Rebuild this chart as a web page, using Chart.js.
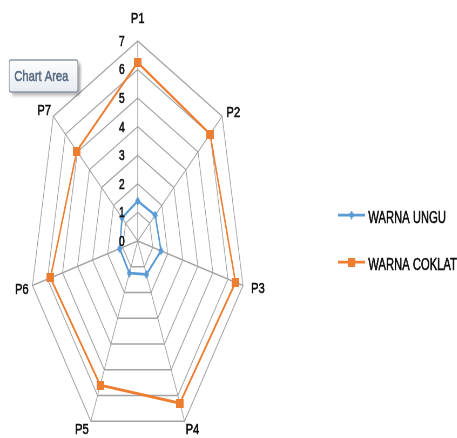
<!DOCTYPE html>
<html><head><meta charset="utf-8">
<script src="https://cdn.jsdelivr.net/npm/chart.js@4/dist/chart.umd.min.js"></script>
<style>
html,body{margin:0;padding:0;overflow:hidden;background:#fff;width:457px;height:438px}
#wrap{position:absolute;left:0;top:0;width:847px;height:460px;transform:scaleX(0.54);transform-origin:0 0}
canvas{display:block}
</style></head><body>
<div id="wrap"><canvas id="c" width="847" height="460"></canvas></div>
<script>
// ---- data ----
const categories = ['P1', 'P2', 'P3', 'P4', 'P5', 'P6', 'P7'];
const warnaUngu = [1.4, 1.45, 1.55, 1.3, 1.25, 1.2, 1.3];
const warnaCoklat = [6.25, 6.0, 6.5, 6.3, 5.6, 5.8, 5.05];
const tickValues = [0, 1, 2, 3, 4, 5, 6, 7];
const seriesNames = ['WARNA UNGU', 'WARNA COKLAT'];

// ---- style ----
const TEXT_K = 1.38;               // text is widened back inside the squeezed wrapper
const LEGEND_K = 1.3;
const FONT = '"Liberation Sans", Arial, sans-serif';
const BLUE = '#5B9BD5', ORANGE = '#ED7D31', GRID = '#a3a3a3', INK = '#111111';
// [dx, dy, align] of each axis name relative to its outer vertex
const LABEL_OFFSETS = [
  [0, -22, 'center'], [8, -3, 'left'], [15, 3, 'left'], [2, 9, 'left'],
  [-4, 9, 'right'], [-7, 4, 'right'], [-4, -5, 'right']
];

function markerCanvas(shape, w, h, color) {
  const c = document.createElement('canvas');
  c.width = w; c.height = h;
  const g = c.getContext('2d');
  g.fillStyle = color;
  if (shape === 'diamond') {
    g.beginPath(); g.moveTo(w / 2, 0); g.lineTo(w, h / 2); g.lineTo(w / 2, h); g.lineTo(0, h / 2);
    g.closePath(); g.fill();
  } else {
    g.fillRect(0, 0, w, h);
  }
  return c;
}
const blueMarker = markerCanvas('diamond', 10, 9, BLUE);
const orangeMarker = markerCanvas('square', 14, 9, ORANGE);

function drawText(ctx, s, x, y, align, size, color, k) {
  ctx.save();
  ctx.translate(x, y);
  ctx.scale(k || TEXT_K, 1);
  ctx.font = size + 'px ' + FONT;
  ctx.fillStyle = color;
  ctx.strokeStyle = color;
  ctx.lineWidth = 0.6;
  ctx.textAlign = align;
  ctx.textBaseline = 'middle';
  ctx.fillText(s, 0, 0);
  ctx.strokeText(s, 0, 0);
  ctx.restore();
}

function roundRect(ctx, x, y, w, h, r) {
  ctx.beginPath();
  ctx.moveTo(x + r, y); ctx.lineTo(x + w - r, y); ctx.quadraticCurveTo(x + w, y, x + w, y + r);
  ctx.lineTo(x + w, y + h - r); ctx.quadraticCurveTo(x + w, y + h, x + w - r, y + h);
  ctx.lineTo(x + r, y + h); ctx.quadraticCurveTo(x, y + h, x, y + h - r);
  ctx.lineTo(x, y + r); ctx.quadraticCurveTo(x, y, x + r, y);
  ctx.closePath();
}

const decorations = {
  id: 'decorations',
  afterDraw(chart) {
    const ctx = chart.ctx, r = chart.scales.r;
    // value ticks, left of the first spoke
    tickValues.forEach(v => {
      const y = r.yCenter - r.getDistanceFromCenterForValue(v);
      drawText(ctx, String(v), r.xCenter - 24, y + 1, 'right', 14, INK);
    });
    // spoke names
    chart.data.labels.forEach((lab, i) => {
      const p = r.getPointPosition(i, r.drawingArea);
      const o = LABEL_OFFSETS[i];
      drawText(ctx, lab, p.x + o[0], p.y + o[1], o[2], 15, INK);
    });
    // legend: line with marker, then the series name
    const rows = [215, 262];
    chart.data.datasets.forEach((ds, i) => {
      const y = rows[i];
      ctx.save();
      ctx.strokeStyle = ds.borderColor;
      ctx.lineWidth = 2.75;
      ctx.beginPath(); ctx.moveTo(626, y); ctx.lineTo(676, y); ctx.stroke();
      const m = ds.pointStyle;
      ctx.drawImage(m, 651 - m.width / 2, y - m.height / 2);
      ctx.restore();
      drawText(ctx, ds.label, 682, y + 3.5, 'left', 16, INK, LEGEND_K);
    });
    // "Chart Area" hint box
    ctx.save();
    const bx = 17, by = 60, bw = 127, bh = 32;
    ctx.shadowColor = 'rgba(0,0,0,0.35)';
    ctx.shadowOffsetX = 5; ctx.shadowOffsetY = 3; ctx.shadowBlur = 4;
    const grad = ctx.createLinearGradient(0, by, 0, by + bh);
    grad.addColorStop(0, '#fdfdfe'); grad.addColorStop(1, '#e8ecf1');
    roundRect(ctx, bx, by, bw, bh, 3);
    ctx.fillStyle = grad; ctx.fill();
    ctx.shadowColor = 'transparent';
    ctx.strokeStyle = '#8e98a5'; ctx.lineWidth = 1.3; ctx.stroke();
    ctx.restore();
    drawText(ctx, 'Chart Area', 26.5, by + 17, 'left', 15, '#5b6c84');
  }
};

new Chart(document.getElementById('c'), {
  type: 'radar',
  data: {
    labels: categories,
    datasets: [
      { label: seriesNames[0], data: warnaUngu, borderColor: BLUE, backgroundColor: BLUE,
        fill: false, borderWidth: 2.75, pointStyle: blueMarker, pointRadius: 5, pointBorderWidth: 0 },
      { label: seriesNames[1], data: warnaCoklat, borderColor: ORANGE, backgroundColor: ORANGE,
        fill: false, borderWidth: 2.75, pointStyle: orangeMarker, pointRadius: 5, pointBorderWidth: 0 }
    ]
  },
  options: {
    responsive: false,
    animation: false,
    events: [],
    layout: { padding: { left: 55, top: 41, right: 392, bottom: 19 } },
    plugins: { legend: { display: false }, tooltip: { enabled: false } },
    elements: { line: { tension: 0 } },
    scales: {
      r: {
        min: 0, max: 7,
        ticks: { stepSize: 1, display: false },
        grid: { color: GRID, lineWidth: 1.4 },
        angleLines: { color: GRID, lineWidth: 1.4 },
        pointLabels: { display: false }
      }
    }
  },
  plugins: [decorations]
});
</script>
</body></html>
